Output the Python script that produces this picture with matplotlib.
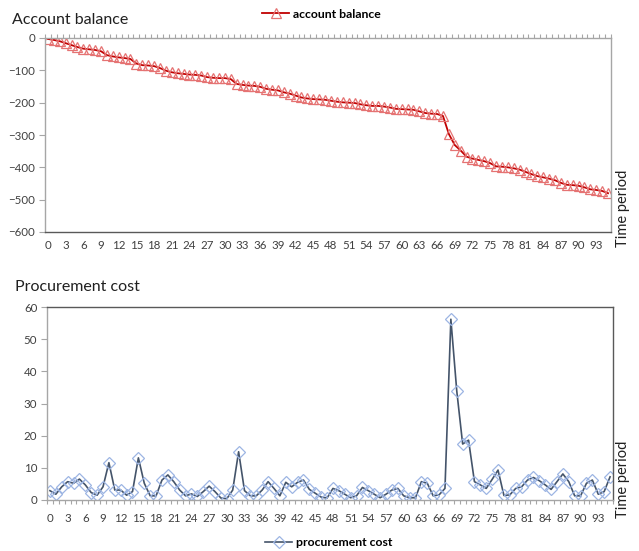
import matplotlib
matplotlib.use("Agg")
import matplotlib.pyplot as plt
from matplotlib.ticker import FixedLocator, MultipleLocator

plt.rcParams["font.family"] = ["Lato", "DejaVu Sans"]

# Time periods 0..95
periods = list(range(96))
tick_periods = list(range(0, 94, 3))

account_balance = [
    -3, -6, -10, -16, -22, -28, -33, -35, -37, -41,
    -53, -57, -60, -62, -65, -79, -84, -85, -87, -93,
    -101, -106, -109, -111, -113, -114, -116, -121, -123, -124,
    -124, -127, -142, -145, -147, -148, -151, -157, -160, -162,
    -168, -172, -178, -184, -187, -189, -190, -191, -194, -197,
    -199, -200, -201, -205, -208, -210, -210, -212, -215, -219,
    -220, -221, -222, -227, -232, -234, -235, -241, -297, -331,
    -348, -367, -373, -377, -381, -387, -397, -398, -400, -403,
    -407, -414, -421, -427, -431, -435, -440, -448, -454, -455,
    -457, -462, -468, -470, -473, -480,
]

procurement_cost = [
    2.9, 1.8, 4.1, 5.7, 5.2, 6.5, 4.7, 2.3, 1.5, 4.1,
    11.6, 3.1, 3.1, 1.5, 2.6, 13.1, 5.2, 1.3, 1.3, 6.2,
    7.8, 5.7, 3.1, 1.3, 1.9, 1.1, 2.6, 4.3, 2.6, 0.6,
    0.4, 3.1, 15.0, 2.9, 1.3, 1.3, 3.1, 5.7, 3.6, 1.3,
    5.5, 4.1, 5.5, 6.2, 3.3, 2.1, 0.9, 0.6, 3.6, 2.9,
    1.8, 0.7, 1.3, 3.9, 2.9, 1.8, 0.7, 1.8, 3.1, 3.6,
    1.3, 0.7, 0.7, 5.7, 5.2, 1.3, 1.6, 3.6, 56.2, 33.9,
    17.4, 18.6, 5.7, 4.7, 3.6, 6.4, 9.3, 1.4, 1.6, 3.6,
    4.1, 6.2, 7.0, 6.0, 4.7, 3.3, 5.7, 8.1, 5.7, 1.3,
    1.3, 5.2, 6.2, 1.8, 2.6, 7.2,
]

W, H = 639, 551
fig = plt.figure(figsize=(W / 100, H / 100), dpi=100)


def fx(px):
    return px / W


def fy(py):
    return 1 - py / H


text_col = "#404040"
light_spine = "#A6A6A6"
dark_spine = "#595959"
boundaries = [p - 0.5 for p in range(97)]

# ---------------- Account balance ----------------
ax1 = fig.add_axes([fx(45), fy(232), fx(611) - fx(45), fy(38) - fy(232)])
ax1.plot(periods, account_balance, color="#C00000", lw=1.3,
         marker="^", markersize=6.5, markerfacecolor="none",
         markeredgecolor="#E57373", markeredgewidth=0.9,
         label="account balance")
ax1.set_xlim(-0.5, 95.5)
ax1.set_ylim(-600, 0)
ax1.yaxis.set_major_locator(MultipleLocator(100))
ax1.xaxis.set_major_locator(FixedLocator(tick_periods))
ax1.set_xticklabels([str(t) for t in tick_periods])
ax1.xaxis.set_minor_locator(FixedLocator(boundaries))
ax1.tick_params(axis="x", which="major", length=0, pad=6,
                labelsize=8.3, labelcolor=text_col)
ax1.tick_params(axis="x", which="minor", bottom=False, top=True,
                direction="out", length=3, color=light_spine, width=0.8)
ax1.tick_params(axis="y", length=4, color=light_spine, width=0.8,
                labelsize=8.3, labelcolor=text_col, pad=3)
ax1.spines["left"].set_color(light_spine)
ax1.spines["top"].set_color(light_spine)
ax1.spines["right"].set_color(light_spine)
ax1.spines["bottom"].set_color(dark_spine)
for s in ax1.spines.values():
    s.set_linewidth(1.0)

fig.text(fx(12), fy(24), "Account balance", fontsize=11.5,
         color="#202020", va="baseline", ha="left")
ax1.legend(loc="center left", bbox_to_anchor=(fx(256), fy(14)),
           bbox_transform=fig.transFigure, frameon=False,
           handlelength=2.2, handletextpad=0.3, borderpad=0,
           prop={"weight": "bold", "size": 8.8})
fig.text(fx(623), fy(208), "Time period", rotation=90, fontsize=10.5,
         color="#202020", ha="center", va="center")

# ---------------- Procurement cost ----------------
ax2 = fig.add_axes([fx(47), fy(500), fx(613) - fx(47), fy(307) - fy(500)])
ax2.plot(periods, procurement_cost, color="#44546A", lw=1.2,
         marker="D", markersize=6, markerfacecolor="none",
         markeredgecolor="#9DB5E3", markeredgewidth=0.9,
         label="procurement cost")
ax2.set_xlim(-0.5, 95.5)
ax2.set_ylim(0, 60)
ax2.yaxis.set_major_locator(MultipleLocator(10))
ax2.xaxis.set_major_locator(FixedLocator(tick_periods))
ax2.set_xticklabels([str(t) for t in tick_periods])
ax2.xaxis.set_minor_locator(FixedLocator(boundaries))
ax2.tick_params(axis="x", which="major", length=0, pad=9,
                labelsize=8.3, labelcolor=text_col)
ax2.tick_params(axis="x", which="minor", bottom=True, top=False,
                direction="out", length=3, color=light_spine, width=0.8)
ax2.tick_params(axis="y", length=4, color=light_spine, width=0.8,
                labelsize=8.3, labelcolor=text_col, pad=3)
ax2.spines["left"].set_color(light_spine)
ax2.spines["bottom"].set_color(light_spine)
ax2.spines["top"].set_color(dark_spine)
ax2.spines["right"].set_color(dark_spine)
for s in ax2.spines.values():
    s.set_linewidth(1.0)

fig.text(fx(15), fy(291), "Procurement cost", fontsize=11.5,
         color="#202020", va="baseline", ha="left")
ax2.legend(loc="center left", bbox_to_anchor=(fx(259), fy(543)),
           bbox_transform=fig.transFigure, frameon=False,
           handlelength=2.2, handletextpad=0.3, borderpad=0,
           prop={"weight": "bold", "size": 8.8})
fig.text(fx(623), fy(479), "Time period", rotation=90, fontsize=10.5,
         color="#202020", ha="center", va="center")

fig.savefig("out.png", dpi=100)
